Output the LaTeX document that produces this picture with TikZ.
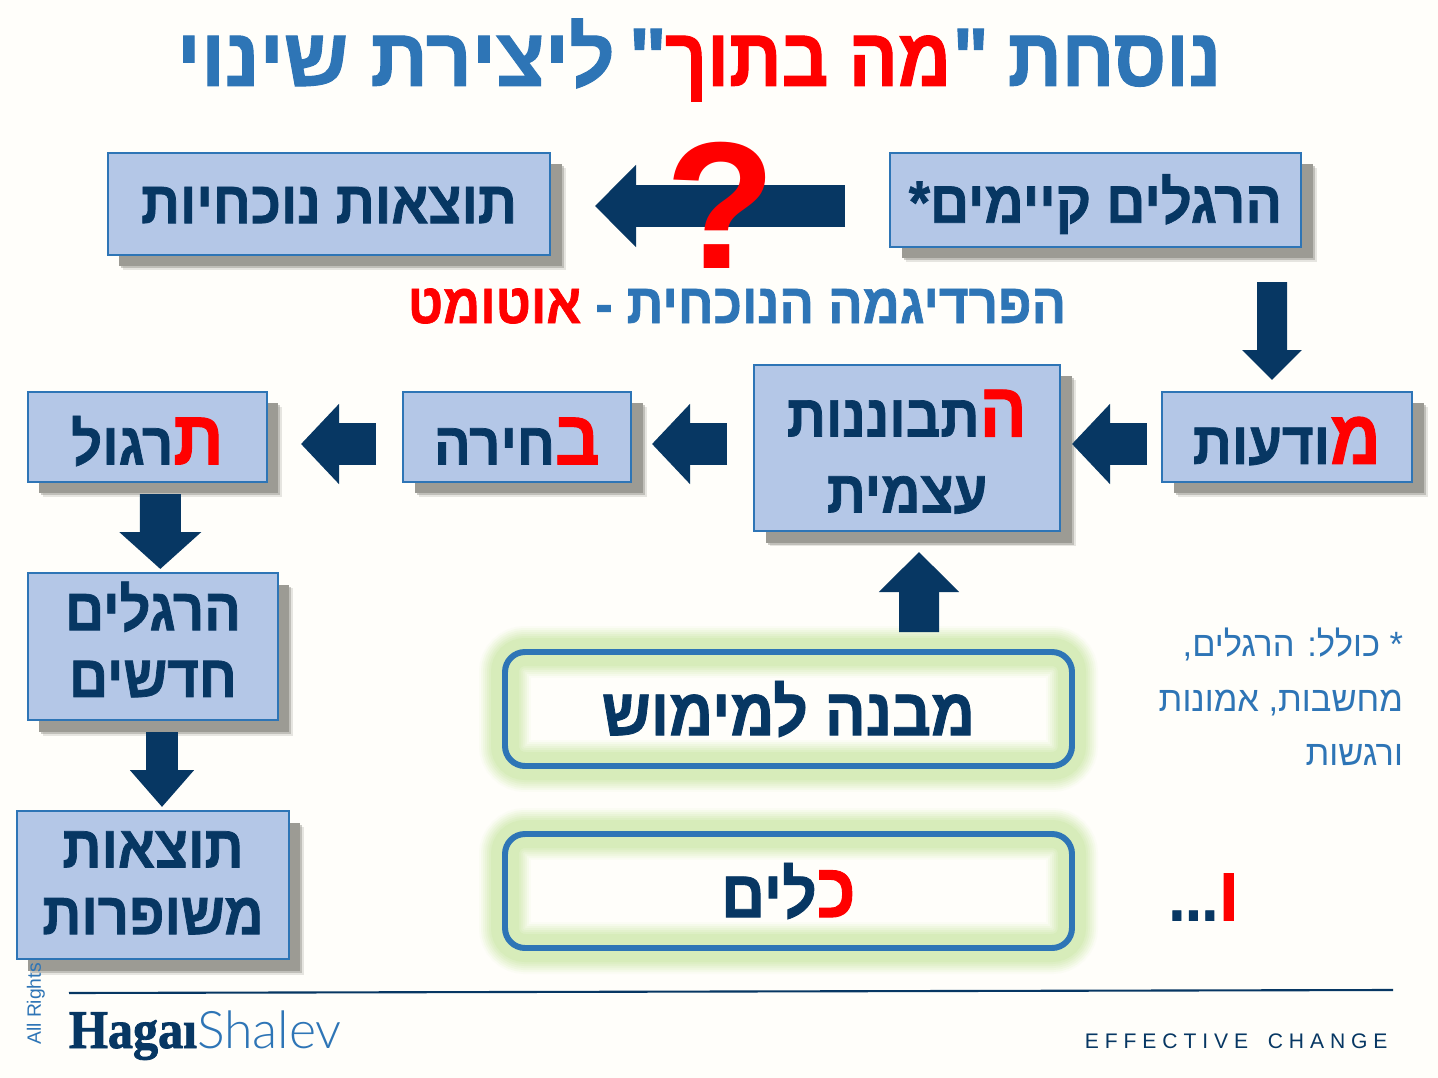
\documentclass[tikz,border=0pt]{standalone}
\usepackage{fontspec}
\usetikzlibrary{arrows.meta,calc,shadows}
\TeXXeTstate=1
\newfontfamily\hebfont[Script=Hebrew,FakeStretch=0.91,FakeBold=1.2]{Liberation Sans}
\newfontfamily\hebwide[Script=Hebrew,FakeStretch=0.97,FakeBold=1.2]{Liberation Sans}
\newfontfamily\hebtight[Script=Hebrew,FakeStretch=0.885,FakeBold=1.2]{Liberation Sans}
\newfontfamily\hebnote[Script=Hebrew,FakeStretch=0.98]{Liberation Sans}
\newfontfamily\logoserif[FakeStretch=0.92,FakeBold=1.5]{Liberation Serif}
\newfontfamily\logolight{Lato Light}
\newfontfamily\latinfont{Liberation Sans}
\definecolor{pagebg}{HTML}{FFFEFA}
\definecolor{boxfill}{HTML}{B4C7E7}
\definecolor{boxline}{HTML}{2E75B6}
\definecolor{navy}{HTML}{073763}
\definecolor{shadowgray}{HTML}{9C9B94}
\definecolor{glowcore}{HTML}{D7ECBA}
\newcommand{\heb}[1]{\beginR #1\endR}
\newcommand{\redrun}[1]{{\color{red}\heb{#1}}}
\newcommand{\redbig}[1]{{\color{red}\fontsize{44}{44}\selectfont\heb{#1}}}
\newcommand{\nudge}[2]{\raisebox{#1}[\height][\depth]{#2}}
\tikzset{
    boxsize/.style 2 args = {minimum width=#1*0.02cm, minimum height=#2*0.02cm},
    stepbox/.style = {rectangle, draw=boxline, line width=1.2pt, fill=boxfill, text=navy, align=center, inner sep=0pt, outer sep=0pt,
                    font=\hebfont\bfseries\fontsize{34}{38}\selectfont,
                    drop shadow={shadow xshift=0.31cm, shadow yshift=-0.31cm, fill=shadowgray, opacity=0.25},
                    drop shadow={shadow xshift=0.27cm, shadow yshift=-0.27cm, fill=shadowgray, opacity=0.5},
                    drop shadow={shadow xshift=0.23cm, shadow yshift=-0.23cm, fill=shadowgray, opacity=1}},
    glowbox/.style = {rectangle, rounded corners=0.4cm, draw=boxline, line width=3.4pt, text=navy, inner sep=0pt, outer sep=0pt,
                    font=\hebfont\bfseries\fontsize{38}{42}\selectfont,
                    preaction={fill=pagebg, draw=none},
                    preaction={draw=glowcore!10!pagebg, line width=1.04cm},
                    preaction={draw=glowcore!25!pagebg, line width=0.96cm},
                    preaction={draw=glowcore!40!pagebg, line width=0.88cm},
                    preaction={draw=glowcore!55!pagebg, line width=0.8cm},
                    preaction={draw=glowcore!70!pagebg, line width=0.72cm},
                    preaction={draw=glowcore!85!pagebg, line width=0.64cm},
                    preaction={draw=glowcore, line width=0.56cm}},
    blockarr/.style n args = {3}{draw=navy, line width=#1*0.02cm, -{Triangle[length=#2*0.02cm, width=#3*0.02cm, fill=navy]}},
    gap/.style 2 args = {shorten <=#1*0.02cm, shorten >=#2*0.02cm},
    plaintext/.style = {inner sep=0pt, outer sep=0pt}
}
\begin{document}
\begin{tikzpicture}[x=0.02cm, y=-0.02cm]
    \useasboundingbox[fill=pagebg] (0,0) rectangle (1438,1078);

    % Title
    \node[plaintext, text=boxline, font=\hebfont\bfseries\fontsize{47}{50}\selectfont] (title) at (699,60)
        {{\hebwide\heb{"\hspace{8pt}ליצירת שינוי}}\hspace{-1pt}{\hebtight\redrun{מה בתוך}}\hspace{1pt}\heb{נוסחת\hspace{11pt}"}};

    % Boxes
    \node[stepbox, boxsize={411}{94}] (habits) at (1095.5,200) {\nudge{-2.3pt}{\heb{הרגלים קיימים*}}};
    \node[stepbox, boxsize={442}{102}] (results) at (329,204) {\nudge{-0.6pt}{\heb{תוצאות נוכחיות}}};
    \node[stepbox, boxsize={250}{90}] (awareness) at (1287,437) {\nudge{-2.3pt}{\heb{ודעות}\redbig{מ}}};
    \node[stepbox, boxsize={306}{166}] (reflection) at (907,448) {\nudge{-2.3pt}{\heb{תבוננות}\redbig{ה}}\\[5.5pt]\nudge{-2pt}{\heb{עצמית}}};
    \node[stepbox, boxsize={228}{90}] (choice) at (517,437) {\nudge{-2.3pt}{\heb{חירה}\redbig{ב}}};
    \node[stepbox, boxsize={239}{90}] (practice) at (147.5,437) {\nudge{-2.3pt}{\heb{רגול}\redbig{ת}}};
    \node[stepbox, boxsize={250}{147}] (newhabits) at (153,646.5) {\nudge{4pt}{\heb{הרגלים}}\\\nudge{4pt}{\heb{חדשים}}};
    \node[stepbox, boxsize={272}{148}] (better) at (153,885) {\nudge{1.2pt}{\heb{תוצאות}}\\\nudge{1.2pt}{\heb{משופרות}}};

    % Glow boxes
    \node[glowbox, boxsize={567}{114}] (structure) at (788.5,709) {\heb{מבנה למימוש}};
    \node[glowbox, boxsize={567}{114}] (tools) at (788.5,891) {\heb{לים}\redbig{כ}};

    % Arrows
    \draw[blockarr={41}{41}{80}, gap={45}{45}] ($(habits.west)+(0,6)$) -- ($(results.east)+(0,2)$);
    \draw[blockarr={30}{30}{58}, gap={35}{12}] ($(habits.south)+(176.5,0)$) -- ($(awareness.north)+(-15,0)$);
    \draw[blockarr={42}{38}{78}, gap={15}{12}] ($(awareness.west)+(0,7)$) -- ($(reflection.east)+(0,-4)$);
    \draw[blockarr={42}{38}{78}, gap={27}{21}] ($(reflection.west)+(0,-4)$) -- ($(choice.east)+(0,7)$);
    \draw[blockarr={42}{38}{78}, gap={27}{34}] ($(choice.west)+(0,7)$) -- ($(practice.east)+(0,7)$);
    \draw[blockarr={41}{37}{80}, gap={12}{4}] ($(practice.south)+(12.8,0)$) -- ($(newhabits.north)+(7.3,0)$);
    \draw[blockarr={32}{37}{62}, gap={12}{4}] ($(newhabits.south)+(9,0)$) -- ($(better.north)+(9,0)$);
    \draw[blockarr={40}{40}{78}, gap={20}{21}] ($(structure.north)+(130.5,0)$) -- ($(reflection.south)+(12,0)$);

    % Question mark and labels
    \node[plaintext, text=red, text height=73pt, text depth=0pt, font=\latinfont\bfseries\fontsize{103}{103}\selectfont] (qmark) at (721,204) {?};
    \node[plaintext, text=boxline, font=\hebfont\bfseries\fontsize{32}{34}\selectfont] (paradigm) at (737,306)
        {\redrun{אוטומט}\heb{הפרדיגמה הנוכחית - }};
    \node[plaintext, text=boxline, align=right, anchor=north east, font=\hebnote\fontsize{20}{31}\selectfont] (note) at (1403,628)
        {\heb{* כולל: הרגלים,}\\\heb{מחשבות, אמונות}\\\heb{ורגשות}};
    \node[plaintext, text=navy, font=\hebfont\bfseries\fontsize{37}{40}\selectfont] (vav) at (1204,897)
        {\heb{...}\redbig{ו}};

    % Footer
    \coordinate (ruleleft) at (69,993);
    \coordinate (ruleright) at (1393,990);
    \draw[navy, line width=1.2pt] (ruleleft) -- (ruleright);
    \node[plaintext, anchor=base west, text=navy, font=\logoserif\bfseries\fontsize{31}{31}\selectfont] (hagai) at (69,1048) {Haga\i};
    \node[plaintext, anchor=base west, text=boxline, font=\logolight\fontsize{29.5}{30}\selectfont] (shalev) at (hagai.base east) {Shalev};
    \node[plaintext, rotate=90, text=boxline, font=\latinfont\fontsize{11}{11}\selectfont] (rights) at (36,1004) {All Rights};
    \node[plaintext, anchor=east, text=navy, font=\latinfont\fontsize{12}{13}\selectfont] (tagline) at (1387.5,1041)
        {\addfontfeature{LetterSpace=28}EFFECTIVE\hspace{4.5pt} CHANGE};
\end{tikzpicture}
\end{document}
